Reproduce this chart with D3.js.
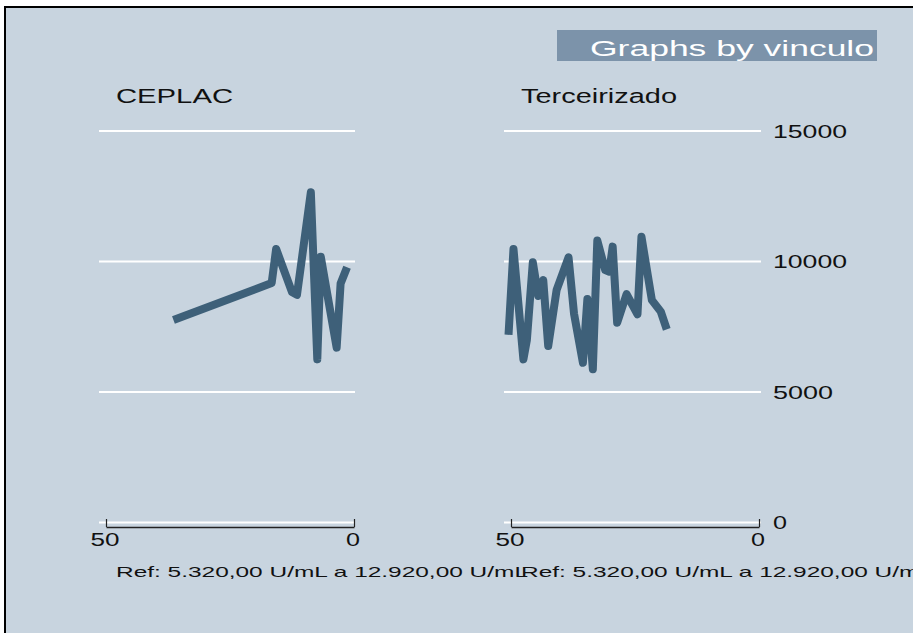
<!DOCTYPE html>
<html>
<head>
<meta charset="utf-8">
<script src="https://cdn.jsdelivr.net/npm/d3@7"></script>
<style>
  body { margin: 0; background: #ffffff; }
  text { font-family: "Liberation Sans", Arial, sans-serif; fill: #111; }
</style>
</head>
<body>
<div id="chart"></div>
<script>
// panels (one per vinculo)
const panels = ["CEPLAC", "Terceirizado"]
const noteText = "Ref: 5.320,00 U/mL a 12.920,00 U/mL"
const titleText = "Graphs by vinculo"

// x = days, y = value
const ceplacDays = [36.4, 16.6, 15.7, 12.5, 11.5, 8.7, 7.4, 6.7, 3.5, 2.7, 1.4]
const ceplacValues = [7760, 9175, 10480, 8830, 8720, 12650, 6250, 10180, 6700, 9160, 9780]

const tercDays = [50.5, 49.5, 47.5, 46.8, 45.6, 44.5, 43.5, 42.5, 40.8, 38.4, 37.3, 35.5, 34.6, 33.5,
                  32.6, 31.0, 30.2, 29.5, 28.6, 26.7, 24.5, 23.7, 21.6, 19.8, 18.6]
const tercValues = [7190, 10480, 6250, 6990, 9970, 8680, 9290, 6760, 8910, 10160, 8010, 6120, 8560, 5870,
                    10800, 9670, 9610, 10570, 7650, 8750, 7980, 10950, 8520, 8080, 7400]

const yTicks = [0, 5000, 10000, 15000]
const xTicks = [50, 0]

const width = 913, height = 635
const bg = "#c8d4df", lineColor = "#3e6079", boxColor = "#7c93aa"

const svg = d3.select("#chart").append("svg")
    .attr("width", width)
    .attr("height", height)

// frame
svg.append("rect").attr("x", 6).attr("y", 8).attr("width", width - 6).attr("height", 625).attr("fill", bg)
svg.append("rect").attr("x", 4).attr("y", 6).attr("width", 2).attr("height", 627).attr("fill", "#000")
svg.append("rect").attr("x", 4).attr("y", 6).attr("width", width - 4).attr("height", 2).attr("fill", "#000")

const y = d3.scaleLinear().domain([0, 15000]).range([522.5, 131])

const panelLeft = [106, 511] // x position of "50"
const panelData = [
    {days: ceplacDays, values: ceplacValues},
    {days: tercDays, values: tercValues}
]

panels.forEach((name, i) => {
    const x = d3.scaleLinear().domain([50, 0]).range([panelLeft[i], panelLeft[i] + 248])
    const g = svg.append("g")

    // gridlines
    g.selectAll(".grid")
        .data(yTicks)
        .enter()
        .append("line")
        .attr("x1", x(50) - 7)
        .attr("x2", x(0) + (i === 1 ? 2 : 1))
        .attr("y1", d => y(d))
        .attr("y2", d => y(d))
        .attr("stroke", "#ffffff")
        .attr("stroke-width", 2)

    // x axis, ticks pointing up
    const ax = g.append("g")
        .attr("transform", "translate(0,527)")
        .call(d3.axisBottom(x).tickValues(xTicks).tickFormat(d3.format("d"))
            .tickSize(-8).tickSizeOuter(0).tickPadding(6))
    ax.select(".domain").attr("stroke", "#222").attr("stroke-width", 1.5)
    ax.selectAll(".tick line").attr("stroke", "#222").attr("stroke-width", 1.2)
    ax.selectAll(".tick text")
        .attr("font-size", 19)
        .attr("font-family", "Liberation Sans, Arial, sans-serif")
        .attr("fill", "#111")
        .attr("x", -1.5)
        .attr("textLength", d => d === 50 ? 29 : 14)
        .attr("lengthAdjust", "spacingAndGlyphs")

    // panel title
    g.append("text")
        .attr("x", panelLeft[i] + 10)
        .attr("y", 103)
        .attr("font-size", 20.5)
        .attr("textLength", i === 0 ? 117 : 156)
        .attr("lengthAdjust", "spacingAndGlyphs")
        .text(name)

    // the series
    const pts = panelData[i].days.map((d, k) => [d, panelData[i].values[k]])
    g.append("path")
        .datum(pts)
        .attr("fill", "none")
        .attr("stroke", lineColor)
        .attr("stroke-width", 8)
        .attr("stroke-linejoin", "round")
        .attr("stroke-linecap", "butt")
        .attr("d", d3.line().x(d => x(d[0])).y(d => y(d[1])))

    // note under each panel
    g.append("text")
        .attr("x", panelLeft[i] + 10)
        .attr("y", 577)
        .attr("font-size", 15)
        .attr("textLength", 412)
        .attr("lengthAdjust", "spacingAndGlyphs")
        .text(noteText)
})

// y axis on the right
const yAx = svg.append("g")
    .attr("transform", "translate(761,0)")
    .call(d3.axisRight(y).tickValues(yTicks).tickFormat(d3.format("d")).tickSize(0).tickPadding(12))
yAx.select(".domain").remove()
yAx.selectAll(".tick text")
    .attr("font-size", 19)
    .attr("font-family", "Liberation Sans, Arial, sans-serif")
    .attr("fill", "#111")
    .attr("text-anchor", "start")
    .attr("textLength", d => d === 0 ? 14 : (d === 5000 ? 60 : 74))
    .attr("lengthAdjust", "spacingAndGlyphs")

// "Graphs by" box
svg.append("rect")
    .attr("x", 557).attr("y", 30)
    .attr("width", 320).attr("height", 31)
    .attr("fill", boxColor)
svg.append("text")
    .attr("x", 590)
    .attr("y", 56)
    .attr("font-size", 22)
    .attr("textLength", 284)
    .attr("lengthAdjust", "spacingAndGlyphs")
    .style("fill", "#ffffff")
    .text(titleText)
</script>
</body>
</html>
